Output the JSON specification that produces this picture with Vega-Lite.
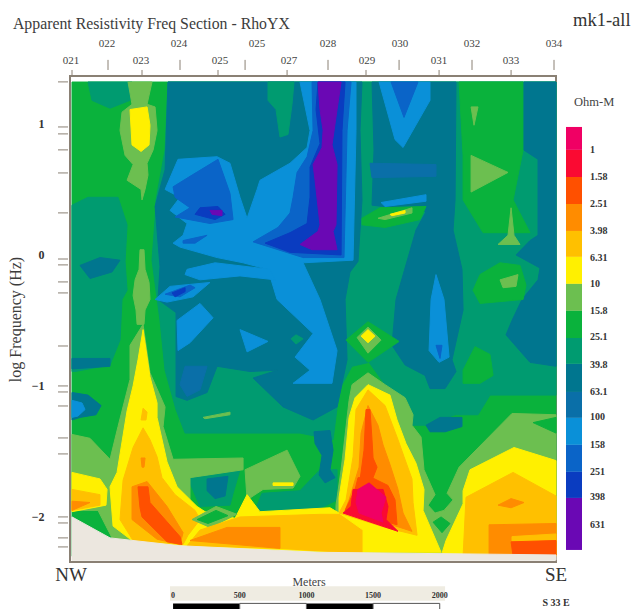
{"$schema":"https://vega.github.io/schema/vega-lite/v6.json","width":486,"height":486,"autosize":"none","padding":{"left":70,"top":76,"right":80,"bottom":47},"background":"#ffffff","config":{"view":{"stroke":"#8a8074","strokeWidth":2}},
"datasets":{"poly":[
{"p":1,"c":"G","x":15,"y":1.32},{"p":1,"c":"G","x":3645,"y":1.32},{"p":1,"c":"G","x":3645,"y":-2.3},{"p":1,"c":"G","x":15,"y":-2.3},
{"p":2,"c":"TG","x":135,"y":1.32},{"p":2,"c":"TG","x":465,"y":1.32},{"p":2,"c":"TG","x":450,"y":1.18},{"p":2,"c":"TG","x":300,"y":1.12},{"p":2,"c":"TG","x":165,"y":1.18},
{"p":3,"c":"TG","x":15,"y":0.38},{"p":3,"c":"TG","x":135,"y":0.44},{"p":3,"c":"TG","x":360,"y":0.44},{"p":3,"c":"TG","x":428,"y":0.23},{"p":3,"c":"TG","x":413,"y":-0.05},{"p":3,"c":"TG","x":428,"y":-0.27},{"p":3,"c":"TG","x":390,"y":-0.34},{"p":3,"c":"TG","x":375,"y":-0.65},{"p":3,"c":"TG","x":300,"y":-0.84},{"p":3,"c":"TG","x":38,"y":-0.89},{"p":3,"c":"TG","x":15,"y":-0.89},
{"p":4,"c":"T","x":75,"y":-0.08},{"p":4,"c":"T","x":225,"y":-0.02},{"p":4,"c":"T","x":375,"y":-0.04},{"p":4,"c":"T","x":315,"y":-0.13},{"p":4,"c":"T","x":150,"y":-0.18},
{"p":5,"c":"T","x":15,"y":-0.79},{"p":5,"c":"T","x":300,"y":-0.79},{"p":5,"c":"T","x":300,"y":-0.85},{"p":5,"c":"T","x":15,"y":-0.87},
{"p":6,"c":"T","x":15,"y":-1.05},{"p":6,"c":"T","x":135,"y":-1.07},{"p":6,"c":"T","x":233,"y":-1.15},{"p":6,"c":"T","x":195,"y":-1.22},{"p":6,"c":"T","x":75,"y":-1.24},{"p":6,"c":"T","x":15,"y":-1.26},
{"p":7,"c":"LB","x":15,"y":-1.11},{"p":7,"c":"LB","x":90,"y":-1.13},{"p":7,"c":"LB","x":113,"y":-1.18},{"p":7,"c":"LB","x":60,"y":-1.23},{"p":7,"c":"LB","x":15,"y":-1.24},
{"p":8,"c":"TG","x":735,"y":1.32},{"p":8,"c":"TG","x":3645,"y":1.32},{"p":8,"c":"TG","x":3645,"y":-1.07},{"p":8,"c":"TG","x":3150,"y":-1.07},{"p":8,"c":"TG","x":3060,"y":-1.22},{"p":8,"c":"TG","x":2888,"y":-1.22},{"p":8,"c":"TG","x":2663,"y":-1.3},{"p":8,"c":"TG","x":2513,"y":-1.3},{"p":8,"c":"TG","x":2460,"y":-1.11},{"p":8,"c":"TG","x":2363,"y":-0.99},{"p":8,"c":"TG","x":2243,"y":-0.82},{"p":8,"c":"TG","x":2115,"y":-0.85},{"p":8,"c":"TG","x":2040,"y":-0.99},{"p":8,"c":"TG","x":2010,"y":-1.11},{"p":8,"c":"TG","x":1973,"y":-1.41},{"p":8,"c":"TG","x":1725,"y":-1.36},{"p":8,"c":"TG","x":863,"y":-1.36},{"p":8,"c":"TG","x":795,"y":-1.18},{"p":8,"c":"TG","x":765,"y":-1.07},{"p":8,"c":"TG","x":713,"y":-0.88},{"p":8,"c":"TG","x":675,"y":-0.5},{"p":8,"c":"TG","x":615,"y":-0.04},{"p":8,"c":"TG","x":638,"y":0.27},{"p":8,"c":"TG","x":645,"y":0.42},{"p":8,"c":"TG","x":713,"y":0.8},
{"p":9,"c":"TG","x":1388,"y":-1.95},{"p":9,"c":"TG","x":1440,"y":-1.82},{"p":9,"c":"TG","x":1725,"y":-1.8},{"p":9,"c":"TG","x":1875,"y":-1.64},{"p":9,"c":"TG","x":2003,"y":-1.64},{"p":9,"c":"TG","x":2003,"y":-1.87},{"p":9,"c":"TG","x":1845,"y":-1.95},
{"p":10,"c":"G","x":2918,"y":1.32},{"p":10,"c":"G","x":3398,"y":1.32},{"p":10,"c":"G","x":3398,"y":0.8},{"p":10,"c":"G","x":3323,"y":0.42},{"p":10,"c":"G","x":3450,"y":0.17},{"p":10,"c":"G","x":3098,"y":0.17},{"p":10,"c":"G","x":2948,"y":0.42},{"p":10,"c":"G","x":2948,"y":0.76},
{"p":11,"c":"L","x":3008,"y":0.76},{"p":11,"c":"L","x":3285,"y":0.63},{"p":11,"c":"L","x":3008,"y":0.48},
{"p":12,"c":"L","x":3008,"y":1.13},{"p":12,"c":"L","x":3060,"y":1.13},{"p":12,"c":"L","x":3030,"y":0.99},
{"p":13,"c":"L","x":3308,"y":0.36},{"p":13,"c":"L","x":3330,"y":0.15},{"p":13,"c":"L","x":3375,"y":0.08},{"p":13,"c":"L","x":3210,"y":0.08},{"p":13,"c":"L","x":3285,"y":0.15},
{"p":14,"c":"T","x":3405,"y":1.32},{"p":14,"c":"T","x":3645,"y":1.32},{"p":14,"c":"T","x":3645,"y":-0.85},{"p":14,"c":"T","x":3450,"y":-0.82},{"p":14,"c":"T","x":3270,"y":-0.61},{"p":14,"c":"T","x":3315,"y":-0.5},{"p":14,"c":"T","x":3390,"y":-0.34},{"p":14,"c":"T","x":3510,"y":-0.19},{"p":14,"c":"T","x":3525,"y":-0.1},{"p":14,"c":"T","x":3345,"y":0},{"p":14,"c":"T","x":3450,"y":0.11},{"p":14,"c":"T","x":3510,"y":0.15},{"p":14,"c":"T","x":3510,"y":0.73},{"p":14,"c":"T","x":3405,"y":0.8},
{"p":15,"c":"G","x":3023,"y":-0.27},{"p":15,"c":"G","x":3075,"y":-0.15},{"p":15,"c":"G","x":3225,"y":-0.06},{"p":15,"c":"G","x":3375,"y":-0.08},{"p":15,"c":"G","x":3420,"y":-0.23},{"p":15,"c":"G","x":3398,"y":-0.34},{"p":15,"c":"G","x":3075,"y":-0.37},
{"p":16,"c":"L","x":3225,"y":-0.19},{"p":16,"c":"L","x":3360,"y":-0.15},{"p":16,"c":"L","x":3345,"y":-0.24},{"p":16,"c":"L","x":3248,"y":-0.25},
{"p":17,"c":"G","x":2948,"y":-0.88},{"p":17,"c":"G","x":3038,"y":-0.7},{"p":17,"c":"G","x":3150,"y":-0.76},{"p":17,"c":"G","x":3173,"y":-0.92},{"p":17,"c":"G","x":3075,"y":-0.98},{"p":17,"c":"G","x":2948,"y":-0.98},
{"p":18,"c":"T","x":2265,"y":1.32},{"p":18,"c":"T","x":2895,"y":1.32},{"p":18,"c":"T","x":2888,"y":0.42},{"p":18,"c":"T","x":2873,"y":0.19},{"p":18,"c":"T","x":2940,"y":-0.11},{"p":18,"c":"T","x":2948,"y":-0.42},{"p":18,"c":"T","x":2865,"y":-0.8},{"p":18,"c":"T","x":2895,"y":-0.89},{"p":18,"c":"T","x":2813,"y":-1.02},{"p":18,"c":"T","x":2700,"y":-1.02},{"p":18,"c":"T","x":2663,"y":-0.92},{"p":18,"c":"T","x":2513,"y":-0.84},{"p":18,"c":"T","x":2415,"y":-0.69},{"p":18,"c":"T","x":2445,"y":-0.34},{"p":18,"c":"T","x":2595,"y":0.19},{"p":18,"c":"T","x":2670,"y":0.33},{"p":18,"c":"T","x":2265,"y":0.38},{"p":18,"c":"T","x":2280,"y":0.8},
{"p":19,"c":"T2","x":2250,"y":0.7},{"p":19,"c":"T2","x":2745,"y":0.69},{"p":19,"c":"T2","x":2745,"y":0.6},{"p":19,"c":"T2","x":2265,"y":0.59},
{"p":20,"c":"T","x":735,"y":1.32},{"p":20,"c":"T","x":2190,"y":1.32},{"p":20,"c":"T","x":2175,"y":0.95},{"p":20,"c":"T","x":2190,"y":0.42},{"p":20,"c":"T","x":2160,"y":-0.05},{"p":20,"c":"T","x":2100,"y":-0.13},{"p":20,"c":"T","x":2063,"y":-0.34},{"p":20,"c":"T","x":2078,"y":-0.8},{"p":20,"c":"T","x":2003,"y":-1.16},{"p":20,"c":"T","x":1823,"y":-1.26},{"p":20,"c":"T","x":1598,"y":-1.16},{"p":20,"c":"T","x":1373,"y":-0.94},{"p":20,"c":"T","x":1553,"y":-0.88},{"p":20,"c":"T","x":1350,"y":-0.89},{"p":20,"c":"T","x":1103,"y":-0.85},{"p":20,"c":"T","x":1028,"y":-1.05},{"p":20,"c":"T","x":878,"y":-1.11},{"p":20,"c":"T","x":795,"y":-1.08},{"p":20,"c":"T","x":795,"y":-0.44},{"p":20,"c":"T","x":660,"y":-0.34},{"p":20,"c":"T","x":675,"y":-0.09},{"p":20,"c":"T","x":638,"y":0.37},{"p":20,"c":"T","x":713,"y":0.65},
{"p":21,"c":"TG","x":1485,"y":1.32},{"p":21,"c":"TG","x":1680,"y":1.32},{"p":21,"c":"TG","x":1665,"y":1.15},{"p":21,"c":"TG","x":1635,"y":0.92},{"p":21,"c":"TG","x":1575,"y":0.9},{"p":21,"c":"TG","x":1545,"y":1.11},{"p":21,"c":"TG","x":1485,"y":1.18},
{"p":22,"c":"T2","x":863,"y":-0.85},{"p":22,"c":"T2","x":1028,"y":-0.85},{"p":22,"c":"T2","x":975,"y":-1.03},{"p":22,"c":"T2","x":878,"y":-1.08},{"p":22,"c":"T2","x":825,"y":-0.99},
{"p":23,"c":"LB","x":810,"y":0.73},{"p":23,"c":"LB","x":1103,"y":0.75},{"p":23,"c":"LB","x":1200,"y":0.7},{"p":23,"c":"LB","x":1275,"y":0.44},{"p":23,"c":"LB","x":1328,"y":0.28},{"p":23,"c":"LB","x":1403,"y":0.5},{"p":23,"c":"LB","x":1425,"y":0.57},{"p":23,"c":"LB","x":1650,"y":0.7},{"p":23,"c":"LB","x":1778,"y":0.82},{"p":23,"c":"LB","x":1800,"y":0.95},{"p":23,"c":"LB","x":1725,"y":1.32},{"p":23,"c":"LB","x":2145,"y":1.32},{"p":23,"c":"LB","x":2145,"y":0.95},{"p":23,"c":"LB","x":2123,"y":-0.04},{"p":23,"c":"LB","x":1748,"y":-0.06},{"p":23,"c":"LB","x":1875,"y":-0.34},{"p":23,"c":"LB","x":2003,"y":-0.73},{"p":23,"c":"LB","x":1965,"y":-0.98},{"p":23,"c":"LB","x":1673,"y":-0.98},{"p":23,"c":"LB","x":1800,"y":-0.88},{"p":23,"c":"LB","x":1688,"y":-0.78},{"p":23,"c":"LB","x":1823,"y":-0.6},{"p":23,"c":"LB","x":1553,"y":-0.34},{"p":23,"c":"LB","x":1485,"y":-0.11},{"p":23,"c":"LB","x":1298,"y":-0.06},{"p":23,"c":"LB","x":1103,"y":-0.02},{"p":23,"c":"LB","x":825,"y":0.06},{"p":23,"c":"LB","x":773,"y":0.09},{"p":23,"c":"LB","x":848,"y":0.15},{"p":23,"c":"LB","x":878,"y":0.24},{"p":23,"c":"LB","x":750,"y":0.34},{"p":23,"c":"LB","x":825,"y":0.44},{"p":23,"c":"LB","x":713,"y":0.5},
{"p":24,"c":"LB","x":878,"y":-0.11},{"p":24,"c":"LB","x":1088,"y":-0.06},{"p":24,"c":"LB","x":1500,"y":-0.11},{"p":24,"c":"LB","x":1538,"y":-0.19},{"p":24,"c":"LB","x":1275,"y":-0.16},{"p":24,"c":"LB","x":975,"y":-0.19},{"p":24,"c":"LB","x":863,"y":-0.15},
{"p":25,"c":"LB","x":638,"y":-0.34},{"p":25,"c":"LB","x":750,"y":-0.24},{"p":25,"c":"LB","x":1050,"y":-0.21},{"p":25,"c":"LB","x":923,"y":-0.32},{"p":25,"c":"LB","x":728,"y":-0.36},
{"p":26,"c":"B","x":713,"y":-0.3},{"p":26,"c":"B","x":900,"y":-0.23},{"p":26,"c":"B","x":938,"y":-0.25},{"p":26,"c":"B","x":825,"y":-0.32},
{"p":261,"c":"DB","x":765,"y":-0.29},{"p":261,"c":"DB","x":863,"y":-0.25},{"p":261,"c":"DB","x":863,"y":-0.28},{"p":261,"c":"DB","x":788,"y":-0.32},
{"p":27,"c":"LB","x":803,"y":-0.5},{"p":27,"c":"LB","x":975,"y":-0.37},{"p":27,"c":"LB","x":1073,"y":-0.48},{"p":27,"c":"LB","x":900,"y":-0.67},{"p":27,"c":"LB","x":810,"y":-0.73},
{"p":28,"c":"LB","x":1275,"y":-0.57},{"p":28,"c":"LB","x":1485,"y":-0.66},{"p":28,"c":"LB","x":1328,"y":-0.74},
{"p":29,"c":"TG","x":1695,"y":-0.61},{"p":29,"c":"TG","x":1748,"y":-0.64},{"p":29,"c":"TG","x":1695,"y":-0.68},{"p":29,"c":"TG","x":1658,"y":-0.64},
{"p":30,"c":"B","x":773,"y":0.52},{"p":30,"c":"B","x":900,"y":0.6},{"p":30,"c":"B","x":1110,"y":0.73},{"p":30,"c":"B","x":1200,"y":0.47},{"p":30,"c":"B","x":1223,"y":0.27},{"p":30,"c":"B","x":1050,"y":0.24},{"p":30,"c":"B","x":788,"y":0.29},{"p":30,"c":"B","x":900,"y":0.36},{"p":30,"c":"B","x":788,"y":0.44},
{"p":31,"c":"DB","x":975,"y":0.36},{"p":31,"c":"DB","x":1110,"y":0.37},{"p":31,"c":"DB","x":1163,"y":0.31},{"p":31,"c":"DB","x":1088,"y":0.27},{"p":31,"c":"DB","x":938,"y":0.31},
{"p":32,"c":"P","x":1050,"y":0.34},{"p":32,"c":"P","x":1140,"y":0.34},{"p":32,"c":"P","x":1140,"y":0.3},{"p":32,"c":"P","x":1065,"y":0.31},
{"p":33,"c":"B","x":848,"y":0.11},{"p":33,"c":"B","x":1028,"y":0.15},{"p":33,"c":"B","x":938,"y":0.09},{"p":33,"c":"B","x":848,"y":0.09},
{"p":34,"c":"B","x":1815,"y":1.32},{"p":34,"c":"B","x":2108,"y":1.32},{"p":34,"c":"B","x":2078,"y":0.95},{"p":34,"c":"B","x":2055,"y":-0.02},{"p":34,"c":"B","x":1748,"y":-0.02},{"p":34,"c":"B","x":1373,"y":0.1},{"p":34,"c":"B","x":1560,"y":0.21},{"p":34,"c":"B","x":1650,"y":0.32},{"p":34,"c":"B","x":1673,"y":0.44},{"p":34,"c":"B","x":1703,"y":0.63},{"p":34,"c":"B","x":1778,"y":0.75},{"p":34,"c":"B","x":1823,"y":0.95},
{"p":35,"c":"DB","x":1860,"y":1.32},{"p":35,"c":"DB","x":2063,"y":1.32},{"p":35,"c":"DB","x":2040,"y":0.95},{"p":35,"c":"DB","x":2033,"y":0},{"p":35,"c":"DB","x":1650,"y":0.02},{"p":35,"c":"DB","x":1463,"y":0.09},{"p":35,"c":"DB","x":1650,"y":0.17},{"p":35,"c":"DB","x":1778,"y":0.24},{"p":35,"c":"DB","x":1800,"y":0.44},{"p":35,"c":"DB","x":1800,"y":0.67},{"p":35,"c":"DB","x":1875,"y":0.85},{"p":35,"c":"DB","x":1845,"y":1.11},
{"p":36,"c":"P","x":1860,"y":1.32},{"p":36,"c":"P","x":2033,"y":1.32},{"p":36,"c":"P","x":2003,"y":1.11},{"p":36,"c":"P","x":1965,"y":0.84},{"p":36,"c":"P","x":2003,"y":0.69},{"p":36,"c":"P","x":1995,"y":0.23},{"p":36,"c":"P","x":1973,"y":0.18},{"p":36,"c":"P","x":2003,"y":0.04},{"p":36,"c":"P","x":1815,"y":0.04},{"p":36,"c":"P","x":1725,"y":0.08},{"p":36,"c":"P","x":1860,"y":0.18},{"p":36,"c":"P","x":1875,"y":0.23},{"p":36,"c":"P","x":1838,"y":0.57},{"p":36,"c":"P","x":1823,"y":0.69},{"p":36,"c":"P","x":1890,"y":0.82},{"p":36,"c":"P","x":1898,"y":0.95},{"p":36,"c":"P","x":1875,"y":1.11},
{"p":37,"c":"LB","x":2318,"y":1.32},{"p":37,"c":"LB","x":2700,"y":1.32},{"p":37,"c":"LB","x":2700,"y":1.18},{"p":37,"c":"LB","x":2498,"y":0.82},{"p":37,"c":"LB","x":2438,"y":0.88},
{"p":38,"c":"B","x":2408,"y":1.32},{"p":38,"c":"B","x":2610,"y":1.32},{"p":38,"c":"B","x":2505,"y":1.05},
{"p":39,"c":"G","x":2190,"y":0.28},{"p":39,"c":"G","x":2325,"y":0.36},{"p":39,"c":"G","x":2670,"y":0.37},{"p":39,"c":"G","x":2625,"y":0.27},{"p":39,"c":"G","x":2363,"y":0.21},{"p":39,"c":"G","x":2190,"y":0.23},
{"p":40,"c":"LB","x":2333,"y":0.4},{"p":40,"c":"LB","x":2670,"y":0.46},{"p":40,"c":"LB","x":2670,"y":0.41},{"p":40,"c":"LB","x":2363,"y":0.37},
{"p":41,"c":"L","x":2310,"y":0.28},{"p":41,"c":"L","x":2565,"y":0.36},{"p":41,"c":"L","x":2565,"y":0.32},{"p":41,"c":"L","x":2363,"y":0.27},
{"p":42,"c":"Y","x":2400,"y":0.31},{"p":42,"c":"Y","x":2513,"y":0.34},{"p":42,"c":"Y","x":2513,"y":0.32},{"p":42,"c":"Y","x":2415,"y":0.3},
{"p":43,"c":"LB","x":2745,"y":-0.15},{"p":43,"c":"LB","x":2805,"y":-0.34},{"p":43,"c":"LB","x":2843,"y":-0.78},{"p":43,"c":"LB","x":2768,"y":-0.82},{"p":43,"c":"LB","x":2693,"y":-0.73},{"p":43,"c":"LB","x":2708,"y":-0.34},
{"p":44,"c":"B","x":2745,"y":-0.69},{"p":44,"c":"B","x":2790,"y":-0.69},{"p":44,"c":"B","x":2775,"y":-0.79},
{"p":45,"c":"T","x":2670,"y":-1.3},{"p":45,"c":"T","x":2775,"y":-1.24},{"p":45,"c":"T","x":2940,"y":-1.24},{"p":45,"c":"T","x":2940,"y":-1.31},{"p":45,"c":"T","x":2813,"y":-1.35},{"p":45,"c":"T","x":2700,"y":-1.35},
{"p":46,"c":"T","x":1830,"y":-1.35},{"p":46,"c":"T","x":1950,"y":-1.34},{"p":46,"c":"T","x":1973,"y":-1.49},{"p":46,"c":"T","x":1950,"y":-1.64},{"p":46,"c":"T","x":1988,"y":-1.7},{"p":46,"c":"T","x":1913,"y":-1.74},{"p":46,"c":"T","x":1868,"y":-1.68},{"p":46,"c":"T","x":1890,"y":-1.53},{"p":46,"c":"T","x":1838,"y":-1.44},
{"p":47,"c":"G","x":2070,"y":-0.65},{"p":47,"c":"G","x":2235,"y":-0.51},{"p":47,"c":"G","x":2468,"y":-0.66},{"p":47,"c":"G","x":2235,"y":-0.82},
{"p":48,"c":"L","x":2153,"y":-0.63},{"p":48,"c":"L","x":2235,"y":-0.55},{"p":48,"c":"L","x":2333,"y":-0.65},{"p":48,"c":"L","x":2235,"y":-0.75},
{"p":49,"c":"Y","x":2183,"y":-0.62},{"p":49,"c":"Y","x":2235,"y":-0.57},{"p":49,"c":"Y","x":2288,"y":-0.62},{"p":49,"c":"Y","x":2235,"y":-0.67},
{"p":50,"c":"L","x":998,"y":-1.24},{"p":50,"c":"L","x":1200,"y":-1.2},{"p":50,"c":"L","x":1200,"y":-1.22},{"p":50,"c":"L","x":1013,"y":-1.25},
{"p":51,"c":"TG","x":878,"y":-1.69},{"p":51,"c":"TG","x":1275,"y":-1.64},{"p":51,"c":"TG","x":1223,"y":-1.82},{"p":51,"c":"TG","x":1200,"y":-1.91},{"p":51,"c":"TG","x":975,"y":-1.92},
{"p":52,"c":"T","x":1028,"y":-1.71},{"p":52,"c":"T","x":1185,"y":-1.69},{"p":52,"c":"T","x":1163,"y":-1.84},{"p":52,"c":"T","x":1088,"y":-1.86},{"p":52,"c":"T","x":1028,"y":-1.8},
{"p":53,"c":"L","x":1313,"y":-1.64},{"p":53,"c":"L","x":1628,"y":-1.49},{"p":53,"c":"L","x":1725,"y":-1.69},{"p":53,"c":"L","x":1673,"y":-1.78},{"p":53,"c":"L","x":1448,"y":-1.79},{"p":53,"c":"L","x":1328,"y":-1.87},
{"p":54,"c":"Y","x":1523,"y":-1.74},{"p":54,"c":"Y","x":1673,"y":-1.74},{"p":54,"c":"Y","x":1673,"y":-1.76},{"p":54,"c":"Y","x":1523,"y":-1.76},
{"p":73,"c":"L","x":2235,"y":-0.9},{"p":73,"c":"L","x":2363,"y":-0.99},{"p":73,"c":"L","x":2513,"y":-1.09},{"p":73,"c":"L","x":2573,"y":-1.22},{"p":73,"c":"L","x":2565,"y":-1.3},{"p":73,"c":"L","x":2633,"y":-1.39},{"p":73,"c":"L","x":2655,"y":-1.64},{"p":73,"c":"L","x":2738,"y":-1.83},{"p":73,"c":"L","x":2685,"y":-1.91},{"p":73,"c":"L","x":2738,"y":-1.97},{"p":73,"c":"L","x":2805,"y":-1.95},{"p":73,"c":"L","x":2873,"y":-1.87},{"p":73,"c":"L","x":2828,"y":-1.82},{"p":73,"c":"L","x":2918,"y":-1.62},{"p":73,"c":"L","x":3315,"y":-1.21},{"p":73,"c":"L","x":3645,"y":-1.22},{"p":73,"c":"L","x":3645,"y":-2.3},{"p":73,"c":"L","x":1995,"y":-2.3},{"p":73,"c":"L","x":1995,"y":-1.91},{"p":73,"c":"L","x":2033,"y":-1.64},{"p":73,"c":"L","x":2093,"y":-1.11},{"p":73,"c":"L","x":2115,"y":-0.99},
{"p":74,"c":"G","x":3473,"y":-1.28},{"p":74,"c":"G","x":3645,"y":-1.24},{"p":74,"c":"G","x":3645,"y":-1.36},
{"p":75,"c":"G","x":2723,"y":-2.04},{"p":75,"c":"G","x":2783,"y":-2},{"p":75,"c":"G","x":2850,"y":-2.05},{"p":75,"c":"G","x":2790,"y":-2.12},
{"p":55,"c":"L","x":548,"y":-0.53},{"p":55,"c":"L","x":600,"y":-0.9},{"p":55,"c":"L","x":713,"y":-1.16},{"p":55,"c":"L","x":698,"y":-1.31},{"p":55,"c":"L","x":773,"y":-1.56},{"p":55,"c":"L","x":1298,"y":-1.55},{"p":55,"c":"L","x":1298,"y":-1.64},{"p":55,"c":"L","x":900,"y":-1.7},{"p":55,"c":"L","x":900,"y":-1.95},{"p":55,"c":"L","x":450,"y":-2.18},{"p":55,"c":"L","x":315,"y":-2.16},{"p":55,"c":"L","x":210,"y":-1.95},{"p":55,"c":"L","x":15,"y":-1.95},{"p":55,"c":"L","x":15,"y":-1.37},{"p":55,"c":"L","x":150,"y":-1.4},{"p":55,"c":"L","x":300,"y":-1.56},{"p":55,"c":"L","x":360,"y":-1.31},{"p":55,"c":"L","x":450,"y":-0.95},{"p":55,"c":"L","x":450,"y":-0.69},
{"p":56,"c":"G","x":23,"y":-2},{"p":56,"c":"G","x":195,"y":-1.96},{"p":56,"c":"G","x":300,"y":-2.15},{"p":56,"c":"G","x":210,"y":-2.13},
{"p":57,"c":"L","x":435,"y":1.32},{"p":57,"c":"L","x":615,"y":1.32},{"p":57,"c":"L","x":578,"y":1.15},{"p":57,"c":"L","x":638,"y":1.13},{"p":57,"c":"L","x":653,"y":0.95},{"p":57,"c":"L","x":623,"y":0.8},{"p":57,"c":"L","x":578,"y":0.7},{"p":57,"c":"L","x":585,"y":0.61},{"p":57,"c":"L","x":563,"y":0.5},{"p":57,"c":"L","x":540,"y":0.42},{"p":57,"c":"L","x":533,"y":0.5},{"p":57,"c":"L","x":428,"y":0.57},{"p":57,"c":"L","x":473,"y":0.69},{"p":57,"c":"L","x":413,"y":0.76},{"p":57,"c":"L","x":375,"y":0.95},{"p":57,"c":"L","x":390,"y":1.09},{"p":57,"c":"L","x":465,"y":1.15},
{"p":58,"c":"Y","x":450,"y":1.11},{"p":58,"c":"Y","x":578,"y":1.13},{"p":58,"c":"Y","x":600,"y":0.99},{"p":58,"c":"Y","x":593,"y":0.84},{"p":58,"c":"Y","x":533,"y":0.79},{"p":58,"c":"Y","x":465,"y":0.84},
{"p":59,"c":"L","x":525,"y":0.04},{"p":59,"c":"L","x":555,"y":0.04},{"p":59,"c":"L","x":563,"y":-0.11},{"p":59,"c":"L","x":593,"y":-0.21},{"p":59,"c":"L","x":600,"y":-0.34},{"p":59,"c":"L","x":563,"y":-0.42},{"p":59,"c":"L","x":555,"y":-0.53},{"p":59,"c":"L","x":503,"y":-0.53},{"p":59,"c":"L","x":495,"y":-0.42},{"p":59,"c":"L","x":473,"y":-0.31},{"p":59,"c":"L","x":488,"y":-0.19},{"p":59,"c":"L","x":518,"y":-0.11},
{"p":60,"c":"Y","x":548,"y":-0.57},{"p":60,"c":"Y","x":600,"y":-0.93},{"p":60,"c":"Y","x":653,"y":-1.13},{"p":60,"c":"Y","x":653,"y":-1.24},{"p":60,"c":"Y","x":728,"y":-1.58},{"p":60,"c":"Y","x":803,"y":-1.77},{"p":60,"c":"Y","x":953,"y":-1.92},{"p":60,"c":"Y","x":1013,"y":-1.96},{"p":60,"c":"Y","x":1238,"y":-2.01},{"p":60,"c":"Y","x":1328,"y":-1.83},{"p":60,"c":"Y","x":1425,"y":-1.96},{"p":60,"c":"Y","x":1950,"y":-1.93},{"p":60,"c":"Y","x":2018,"y":-1.97},{"p":60,"c":"Y","x":2198,"y":-2.1},{"p":60,"c":"Y","x":2198,"y":-2.28},{"p":60,"c":"Y","x":825,"y":-2.23},{"p":60,"c":"Y","x":465,"y":-2.18},{"p":60,"c":"Y","x":323,"y":-2.07},{"p":60,"c":"Y","x":300,"y":-1.77},{"p":60,"c":"Y","x":353,"y":-1.66},{"p":60,"c":"Y","x":428,"y":-1.19},{"p":60,"c":"Y","x":473,"y":-1},{"p":60,"c":"Y","x":510,"y":-0.8},
{"p":61,"c":"Y","x":15,"y":-1.66},{"p":61,"c":"Y","x":225,"y":-1.71},{"p":61,"c":"Y","x":278,"y":-1.79},{"p":61,"c":"Y","x":270,"y":-1.91},{"p":61,"c":"Y","x":15,"y":-1.96},
{"p":62,"c":"A","x":15,"y":-1.79},{"p":62,"c":"A","x":225,"y":-1.83},{"p":62,"c":"A","x":225,"y":-1.91},{"p":62,"c":"A","x":15,"y":-1.95},
{"p":63,"c":"O","x":15,"y":-1.88},{"p":63,"c":"O","x":150,"y":-1.89},{"p":63,"c":"O","x":15,"y":-1.95},
{"p":64,"c":"A","x":548,"y":-1.32},{"p":64,"c":"A","x":600,"y":-1.41},{"p":64,"c":"A","x":653,"y":-1.54},{"p":64,"c":"A","x":690,"y":-1.7},{"p":64,"c":"A","x":788,"y":-1.83},{"p":64,"c":"A","x":938,"y":-1.95},{"p":64,"c":"A","x":975,"y":-2.02},{"p":64,"c":"A","x":885,"y":-2.14},{"p":64,"c":"A","x":848,"y":-2.21},{"p":64,"c":"A","x":473,"y":-2.18},{"p":64,"c":"A","x":375,"y":-2.02},{"p":64,"c":"A","x":398,"y":-1.72},{"p":64,"c":"A","x":473,"y":-1.47},
{"p":65,"c":"A","x":548,"y":-1.17},{"p":65,"c":"A","x":578,"y":-1.2},{"p":65,"c":"A","x":570,"y":-1.26},{"p":65,"c":"A","x":533,"y":-1.26},
{"p":66,"c":"O","x":465,"y":-1.77},{"p":66,"c":"O","x":578,"y":-1.73},{"p":66,"c":"O","x":728,"y":-1.92},{"p":66,"c":"O","x":848,"y":-2.12},{"p":66,"c":"O","x":825,"y":-2.21},{"p":66,"c":"O","x":653,"y":-2.17},{"p":66,"c":"O","x":465,"y":-2.02},
{"p":67,"c":"O","x":533,"y":-1.55},{"p":67,"c":"O","x":563,"y":-1.55},{"p":67,"c":"O","x":555,"y":-1.62},{"p":67,"c":"O","x":540,"y":-1.62},
{"p":68,"c":"OR","x":510,"y":-1.77},{"p":68,"c":"OR","x":585,"y":-1.77},{"p":68,"c":"OR","x":600,"y":-1.89},{"p":68,"c":"OR","x":825,"y":-2.15},{"p":68,"c":"OR","x":840,"y":-2.21},{"p":68,"c":"OR","x":728,"y":-2.19},{"p":68,"c":"OR","x":540,"y":-2},{"p":68,"c":"OR","x":525,"y":-1.93},
{"p":69,"c":"L","x":915,"y":-2.02},{"p":69,"c":"L","x":1095,"y":-1.92},{"p":69,"c":"L","x":1253,"y":-1.98},{"p":69,"c":"L","x":1050,"y":-2.08},
{"p":70,"c":"G","x":953,"y":-2.02},{"p":70,"c":"G","x":1095,"y":-1.95},{"p":70,"c":"G","x":1185,"y":-1.99},{"p":70,"c":"G","x":1035,"y":-2.05},
{"p":71,"c":"A","x":878,"y":-2.22},{"p":71,"c":"A","x":975,"y":-2.1},{"p":71,"c":"A","x":1275,"y":-2},{"p":71,"c":"A","x":1875,"y":-1.98},{"p":71,"c":"A","x":2025,"y":-1.98},{"p":71,"c":"A","x":2198,"y":-2.1},{"p":71,"c":"A","x":2198,"y":-2.28},{"p":71,"c":"A","x":1575,"y":-2.24},
{"p":72,"c":"O","x":900,"y":-2.18},{"p":72,"c":"O","x":1178,"y":-2.08},{"p":72,"c":"O","x":1575,"y":-2.08},{"p":72,"c":"O","x":1575,"y":-2.24},
{"p":76,"c":"Y","x":2235,"y":-0.99},{"p":76,"c":"Y","x":2400,"y":-1.07},{"p":76,"c":"Y","x":2453,"y":-1.26},{"p":76,"c":"Y","x":2520,"y":-1.44},{"p":76,"c":"Y","x":2595,"y":-1.59},{"p":76,"c":"Y","x":2655,"y":-1.79},{"p":76,"c":"Y","x":2648,"y":-1.95},{"p":76,"c":"Y","x":2783,"y":-2.27},{"p":76,"c":"Y","x":2198,"y":-2.27},{"p":76,"c":"Y","x":2198,"y":-2.1},{"p":76,"c":"Y","x":2018,"y":-1.97},{"p":76,"c":"Y","x":2018,"y":-1.85},{"p":76,"c":"Y","x":2063,"y":-1.56},{"p":76,"c":"Y","x":2093,"y":-1.24},{"p":76,"c":"Y","x":2138,"y":-1.09},
{"p":77,"c":"A","x":2235,"y":-1.03},{"p":77,"c":"A","x":2363,"y":-1.15},{"p":77,"c":"A","x":2460,"y":-1.41},{"p":77,"c":"A","x":2505,"y":-1.54},{"p":77,"c":"A","x":2565,"y":-1.71},{"p":77,"c":"A","x":2573,"y":-1.89},{"p":77,"c":"A","x":2603,"y":-2.14},{"p":77,"c":"A","x":2363,"y":-2.08},{"p":77,"c":"A","x":2018,"y":-1.97},{"p":77,"c":"A","x":2070,"y":-1.87},{"p":77,"c":"A","x":2123,"y":-1.54},{"p":77,"c":"A","x":2145,"y":-1.18},
{"p":78,"c":"O","x":2235,"y":-1.15},{"p":78,"c":"O","x":2310,"y":-1.3},{"p":78,"c":"O","x":2348,"y":-1.45},{"p":78,"c":"O","x":2400,"y":-1.6},{"p":78,"c":"O","x":2460,"y":-1.79},{"p":78,"c":"O","x":2498,"y":-1.97},{"p":78,"c":"O","x":2565,"y":-2.11},{"p":78,"c":"O","x":2475,"y":-2.08},{"p":78,"c":"O","x":2063,"y":-1.95},{"p":78,"c":"O","x":2093,"y":-1.87},{"p":78,"c":"O","x":2123,"y":-1.77},{"p":78,"c":"O","x":2168,"y":-1.62},{"p":78,"c":"O","x":2183,"y":-1.36},
{"p":79,"c":"OR","x":2220,"y":-1.18},{"p":79,"c":"OR","x":2250,"y":-1.18},{"p":79,"c":"OR","x":2265,"y":-1.41},{"p":79,"c":"OR","x":2273,"y":-1.55},{"p":79,"c":"OR","x":2303,"y":-1.62},{"p":79,"c":"OR","x":2265,"y":-1.72},{"p":79,"c":"OR","x":2175,"y":-1.72},{"p":79,"c":"OR","x":2205,"y":-1.49},
{"p":80,"c":"OR","x":2160,"y":-1.7},{"p":80,"c":"OR","x":2265,"y":-1.7},{"p":80,"c":"OR","x":2385,"y":-1.76},{"p":80,"c":"OR","x":2438,"y":-1.87},{"p":80,"c":"OR","x":2453,"y":-2.06},{"p":80,"c":"OR","x":2063,"y":-1.95},{"p":80,"c":"OR","x":2138,"y":-1.79},
{"p":81,"c":"R","x":2123,"y":-1.79},{"p":81,"c":"R","x":2348,"y":-1.79},{"p":81,"c":"R","x":2385,"y":-1.92},{"p":81,"c":"R","x":2370,"y":-2.02},{"p":81,"c":"R","x":2460,"y":-2.11},{"p":81,"c":"R","x":2048,"y":-1.97},{"p":81,"c":"R","x":2108,"y":-1.92},
{"p":82,"c":"Pk","x":2160,"y":-1.79},{"p":82,"c":"Pk","x":2243,"y":-1.74},{"p":82,"c":"Pk","x":2370,"y":-1.85},{"p":82,"c":"Pk","x":2333,"y":-1.97},{"p":82,"c":"Pk","x":2348,"y":-2.04},{"p":82,"c":"Pk","x":2168,"y":-1.97},{"p":82,"c":"Pk","x":2145,"y":-1.89},
{"p":83,"c":"Y","x":3000,"y":-1.64},{"p":83,"c":"Y","x":3330,"y":-1.47},{"p":83,"c":"Y","x":3645,"y":-1.57},{"p":83,"c":"Y","x":3645,"y":-2.3},{"p":83,"c":"Y","x":2783,"y":-2.3},{"p":83,"c":"Y","x":2820,"y":-2.18},{"p":83,"c":"Y","x":2948,"y":-1.9},{"p":83,"c":"Y","x":2948,"y":-1.8},
{"p":84,"c":"A","x":2970,"y":-1.85},{"p":84,"c":"A","x":3323,"y":-1.66},{"p":84,"c":"A","x":3645,"y":-1.84},{"p":84,"c":"A","x":3645,"y":-2.3},{"p":84,"c":"A","x":2948,"y":-2.3},
{"p":85,"c":"O","x":3143,"y":-2.06},{"p":85,"c":"O","x":3645,"y":-2.05},{"p":85,"c":"O","x":3645,"y":-2.3},{"p":85,"c":"O","x":3143,"y":-2.3},
{"p":86,"c":"O","x":3210,"y":-1.91},{"p":86,"c":"O","x":3308,"y":-1.86},{"p":86,"c":"O","x":3405,"y":-1.89},{"p":86,"c":"O","x":3308,"y":-1.93},
{"p":87,"c":"A","x":3315,"y":-2.15},{"p":87,"c":"A","x":3645,"y":-2.13},{"p":87,"c":"A","x":3645,"y":-2.18},{"p":87,"c":"A","x":3315,"y":-2.19},
{"p":88,"c":"OR","x":3308,"y":-2.19},{"p":88,"c":"OR","x":3645,"y":-2.18},{"p":88,"c":"OR","x":3645,"y":-2.3},{"p":88,"c":"OR","x":3323,"y":-2.3},
{"p":89,"c":"Bg","x":15,"y":-2},{"p":89,"c":"Bg","x":300,"y":-2.16},{"p":89,"c":"Bg","x":825,"y":-2.22},{"p":89,"c":"Bg","x":1875,"y":-2.27},{"p":89,"c":"Bg","x":3645,"y":-2.29},{"p":89,"c":"Bg","x":3645,"y":-2.33},{"p":89,"c":"Bg","x":15,"y":-2.33}
]},
"layer":[
{"data":{"name":"poly"},"transform":[{"window":[{"op":"row_number","as":"i"}]}],"mark":{"type":"line","interpolate":"linear-closed","strokeWidth":1,"strokeJoin":"round"},"encoding":{"x":{"field":"x","type":"quantitative","scale":{"domain":[0,3645],"nice":false,"zero":false},"axis":null},"y":{"field":"y","type":"quantitative","scale":{"domain":[-2.344,1.366],"nice":false,"zero":false},"axis":{"values":[-2,-1,0,1],"grid":false,"ticks":false,"domain":false,"labelPadding":26,"labelFont":"Liberation Serif","labelFontWeight":"bold","labelFontSize":12,"labelColor":"#333333","format":"d","title":"log Frequency (Hz)","titleFont":"Liberation Serif","titleFontWeight":"normal","titleFontSize":16,"titleColor":"#3c3c3c","titleX":-47}},"detail":{"field":"p"},"order":{"field":"i"},"color":{"field":"c","type":"nominal","legend":null,"scale":{"domain":["Pk","R","OR","O","A","Y","L","G","TG","T","T2","LB","B","DB","P","Bg"],"range":["#f00064","#fa0a32","#ff5000","#ff8c00","#ffc000","#fff000","#6cbf50","#0ab23c","#009b70","#00768f","#0a6fa8","#0a90d8","#0a64c8","#0a3cc0","#6a08b4","#ece7df"]}},"fill":{"field":"c","type":"nominal","legend":null,"scale":{"domain":["Pk","R","OR","O","A","Y","L","G","TG","T","T2","LB","B","DB","P","Bg"],"range":["#f00064","#fa0a32","#ff5000","#ff8c00","#ffc000","#fff000","#6cbf50","#0ab23c","#009b70","#00768f","#0a6fa8","#0a90d8","#0a64c8","#0a3cc0","#6a08b4","#ece7df"]}}}},
{"data":{"values":[{"x":-90,"x2":-15,"y":1.321},{"x":-90,"x2":-15,"y":0.977},{"x":-90,"x2":-15,"y":0.924},{"x":-90,"x2":-15,"y":0.802},{"x":-90,"x2":-15,"y":0.626},{"x":-90,"x2":-15,"y":0.321},{"x":-90,"x2":-15,"y":-0.031},{"x":-90,"x2":-15,"y":-0.076},{"x":-90,"x2":-15,"y":-0.206},{"x":-90,"x2":-15,"y":-0.29},{"x":-90,"x2":-15,"y":-0.695},{"x":-90,"x2":-15,"y":-1},{"x":-90,"x2":-15,"y":-1.046},{"x":-90,"x2":-15,"y":-1.153},{"x":-90,"x2":-15,"y":-1.397},{"x":-90,"x2":-15,"y":-1.519},{"x":-90,"x2":-15,"y":-2},{"x":-90,"x2":-15,"y":-2.046},{"x":-90,"x2":-15,"y":-2.16},{"x":-90,"x2":-15,"y":-2.229}]},"mark":{"type":"rule","color":"#8a8074","strokeWidth":1},"encoding":{"x":{"field":"x","type":"quantitative"},"x2":{"field":"x2"},"y":{"field":"y","type":"quantitative"}}},
{"data":{"values":[{"x":285,"y":1.412,"y2":1.489},{"x":825,"y":1.412,"y2":1.489},{"x":1313,"y":1.412,"y2":1.489},{"x":1935,"y":1.412,"y2":1.489},{"x":2468,"y":1.412,"y2":1.489},{"x":3015,"y":1.412,"y2":1.489},{"x":3630,"y":1.412,"y2":1.489},{"x":15,"y":1.366,"y2":1.412},{"x":540,"y":1.366,"y2":1.412},{"x":1110,"y":1.366,"y2":1.412},{"x":1628,"y":1.366,"y2":1.412},{"x":2220,"y":1.366,"y2":1.412},{"x":2768,"y":1.366,"y2":1.412},{"x":3308,"y":1.366,"y2":1.412}]},"mark":{"type":"rule","color":"#8a8074","strokeWidth":1},"encoding":{"x":{"field":"x","type":"quantitative"},"y":{"field":"y","type":"quantitative"},"y2":{"field":"y2"}}},
{"data":{"values":[{"c":"Pk","x":3720,"x2":3840,"y":0.977,"y2":0.802},{"c":"R","x":3720,"x2":3840,"y":0.802,"y2":0.595},{"c":"OR","x":3720,"x2":3840,"y":0.595,"y2":0.389},{"c":"O","x":3720,"x2":3840,"y":0.389,"y2":0.183},{"c":"A","x":3720,"x2":3840,"y":0.183,"y2":-0.015},{"c":"Y","x":3720,"x2":3840,"y":-0.015,"y2":-0.221},{"c":"L","x":3720,"x2":3840,"y":-0.221,"y2":-0.427},{"c":"G","x":3720,"x2":3840,"y":-0.427,"y2":-0.634},{"c":"TG","x":3720,"x2":3840,"y":-0.634,"y2":-0.832},{"c":"T","x":3720,"x2":3840,"y":-0.832,"y2":-1.046},{"c":"T2","x":3720,"x2":3840,"y":-1.046,"y2":-1.244},{"c":"LB","x":3720,"x2":3840,"y":-1.244,"y2":-1.45},{"c":"B","x":3720,"x2":3840,"y":-1.45,"y2":-1.656},{"c":"DB","x":3720,"x2":3840,"y":-1.656,"y2":-1.855},{"c":"P","x":3720,"x2":3840,"y":-1.855,"y2":-2.252}]},"mark":{"type":"rect"},"encoding":{"x":{"field":"x","type":"quantitative"},"x2":{"field":"x2"},"y":{"field":"y","type":"quantitative"},"y2":{"field":"y2"},"color":{"field":"c","type":"nominal","legend":null}}},
{"data":{"values":[{"x":750,"x2":2813,"y":-2.53,"y2":-2.64}]},"mark":{"type":"rect","color":"#efece2"},"encoding":{"x":{"field":"x","type":"quantitative"},"x2":{"field":"x2"},"y":{"field":"y","type":"quantitative"},"y2":{"field":"y2"}}},
{"data":{"values":[{"x":773,"x2":1273,"y":-2.66,"y2":-2.74},{"x":1773,"x2":2273,"y":-2.66,"y2":-2.74}]},"mark":{"type":"rect","color":"#000000"},"encoding":{"x":{"field":"x","type":"quantitative"},"x2":{"field":"x2"},"y":{"field":"y","type":"quantitative"},"y2":{"field":"y2"}}},
{"data":{"values":[{"x":1273,"x2":1773,"y":-2.66,"y2":-2.74},{"x":2273,"x2":2773,"y":-2.66,"y2":-2.74}]},"mark":{"type":"rect","fill":"#ffffff","stroke":"#555555","strokeWidth":1},"encoding":{"x":{"field":"x","type":"quantitative"},"x2":{"field":"x2"},"y":{"field":"y","type":"quantitative"},"y2":{"field":"y2"}}},
{"data":{"values":[{"t":"Apparent Resistivity Freq Section - RhoYX","x":-428,"y":1.763}]},"mark":{"type":"text","font":"Liberation Serif","fontSize":15.8,"align":"left","color":"#3c3c3c"},"encoding":{"x":{"field":"x","type":"quantitative"},"y":{"field":"y","type":"quantitative"},"text":{"field":"t"}}},
{"data":{"values":[{"t":"021","x":8,"y":1.481},{"t":"023","x":533,"y":1.481},{"t":"025","x":1125,"y":1.481},{"t":"027","x":1643,"y":1.481},{"t":"029","x":2228,"y":1.481},{"t":"031","x":2768,"y":1.481},{"t":"033","x":3308,"y":1.481},{"t":"022","x":278,"y":1.611},{"t":"024","x":818,"y":1.611},{"t":"025","x":1403,"y":1.611},{"t":"028","x":1935,"y":1.611},{"t":"030","x":2475,"y":1.611},{"t":"032","x":3015,"y":1.611},{"t":"034","x":3630,"y":1.611}]},"mark":{"type":"text","font":"Liberation Serif","fontSize":11,"color":"#444444"},"encoding":{"x":{"field":"x","type":"quantitative"},"y":{"field":"y","type":"quantitative"},"text":{"field":"t"}}},
{"data":{"values":[{"t":"1","y":0.8},{"t":"1.58","y":0.595},{"t":"2.51","y":0.39},{"t":"3.98","y":0.18},{"t":"6.31","y":-0.02},{"t":"10","y":-0.22},{"t":"15.8","y":-0.43},{"t":"25.1","y":-0.63},{"t":"39.8","y":-0.84},{"t":"63.1","y":-1.05},{"t":"100","y":-1.24},{"t":"158","y":-1.45},{"t":"251","y":-1.66},{"t":"398","y":-1.85},{"t":"631","y":-2.06}]},"mark":{"type":"text","font":"Liberation Serif","fontSize":10,"fontWeight":"bold","align":"left","color":"#333333"},"encoding":{"x":{"datum":3900,"type":"quantitative"},"y":{"field":"y","type":"quantitative"},"text":{"field":"t"}}},
{"data":{"values":[{"t":"Ohm-M","x":3780,"y":1.17}]},"mark":{"type":"text","font":"Liberation Serif","fontSize":12.5,"align":"left","color":"#444444"},"encoding":{"x":{"field":"x","type":"quantitative"},"y":{"field":"y","type":"quantitative"},"text":{"field":"t"}}},
{"data":{"values":[{"t":"mk1-all","x":3773,"y":1.79}]},"mark":{"type":"text","font":"Liberation Serif","fontSize":18.5,"align":"left","color":"#333333"},"encoding":{"x":{"field":"x","type":"quantitative"},"y":{"field":"y","type":"quantitative"},"text":{"field":"t"}}},
{"data":{"values":[{"t":"NW","x":8,"y":-2.44},{"t":"SE","x":3645,"y":-2.44}]},"mark":{"type":"text","font":"Liberation Serif","fontSize":19,"color":"#333333"},"encoding":{"x":{"field":"x","type":"quantitative"},"y":{"field":"y","type":"quantitative"},"text":{"field":"t"}}},
{"data":{"values":[{"t":"Meters","x":1793,"y":-2.5}]},"mark":{"type":"text","font":"Liberation Serif","fontSize":12,"color":"#444444"},"encoding":{"x":{"field":"x","type":"quantitative"},"y":{"field":"y","type":"quantitative"},"text":{"field":"t"}}},
{"data":{"values":[{"t":"0","x":773},{"t":"500","x":1273},{"t":"1000","x":1773},{"t":"1500","x":2273},{"t":"2000","x":2773}]},"mark":{"type":"text","font":"Liberation Serif","fontSize":8,"fontWeight":"bold","color":"#333333"},"encoding":{"x":{"field":"x","type":"quantitative"},"y":{"datum":-2.6,"type":"quantitative"},"text":{"field":"t"}}},
{"data":{"values":[{"t":"S 33 E","x":3645,"y":-2.66}]},"mark":{"type":"text","font":"Liberation Serif","fontSize":10,"fontWeight":"bold","color":"#333333"},"encoding":{"x":{"field":"x","type":"quantitative"},"y":{"field":"y","type":"quantitative"},"text":{"field":"t"}}}
]}
